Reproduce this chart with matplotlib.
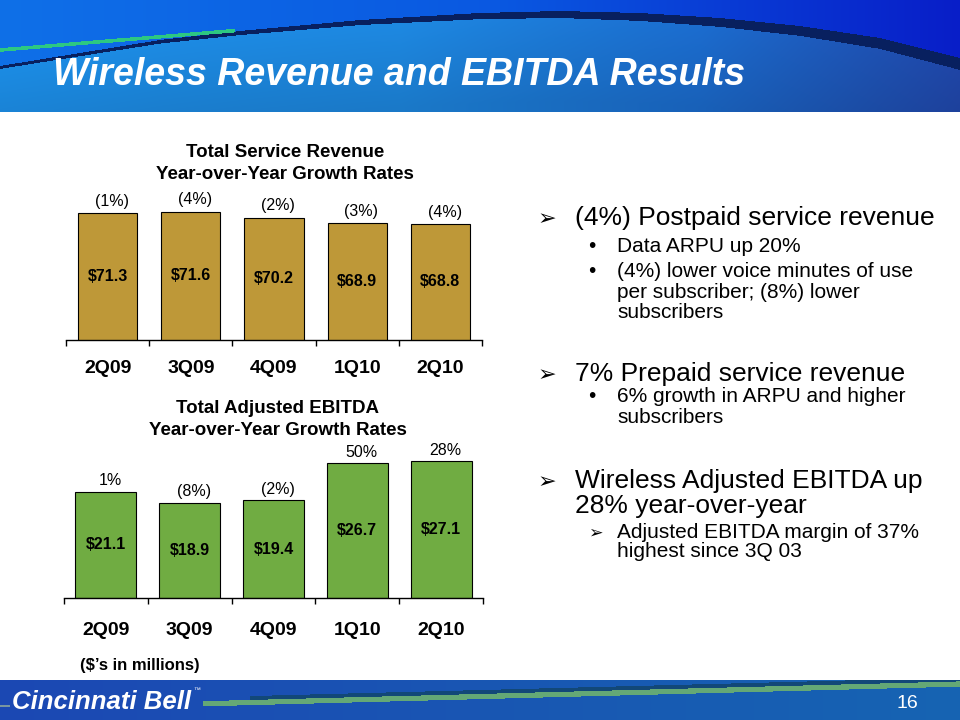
import numpy as np
import matplotlib
matplotlib.use('Agg')
import matplotlib.pyplot as plt

plt.rcParams['font.family'] = ['Liberation Sans', 'DejaVu Sans']

# ---------------- data ----------------
quarters = ['2Q09', '3Q09', '4Q09', '1Q10', '2Q10']
revenue = [71.3, 71.6, 70.2, 68.9, 68.8]
revenue_growth = ['(1%)', '(4%)', '(2%)', '(3%)', '(4%)']
ebitda = [21.1, 18.9, 19.4, 26.7, 27.1]
ebitda_growth = ['1%', '(8%)', '(2%)', '50%', '28%']

W, H = 960, 720
fig = plt.figure(figsize=(9.6, 7.2), dpi=100)
fig.patch.set_facecolor('white')

# ---------------- background (slide decoration) ----------------
bg = fig.add_axes([0, 0, 1, 1], zorder=-10)
bg.set_xlim(0, W)
bg.set_ylim(H, 0)
bg.axis('off')


def interp_col(xs, stops_x, stops_c):
    stops_c = np.array(stops_c, dtype=float)
    return np.stack([np.interp(xs, stops_x, stops_c[:, k]) for k in range(3)], axis=-1)


hh = 112
xs = np.arange(W) + 0.5
ys = np.arange(hh) + 0.5
X, Y = np.meshgrid(xs, ys)
cx = [0, 160, 240, 360, 480, 560, 640, 720, 800, 880, 960]
cy = [66, 40, 31, 20, 13, 11, 13, 18, 26, 38, 58]
yc = np.interp(xs, cx, cy)
thick = 3 + 9 * (xs / W) ** 1.5
upper = interp_col(xs, [0, 500, 960], [(15, 112, 232), (10, 88, 225), (8, 30, 200)])
lower = interp_col(xs, [0, 400, 700, 960], [(28, 140, 228), (30, 138, 228), (28, 110, 210), (32, 70, 168)])
img = np.where((Y < yc[None, :])[..., None], upper[None, :, :], lower[None, :, :])
shade = np.clip((Y - yc[None, :]) / 90.0, 0, 1)[..., None]
img = np.where((Y >= yc[None, :])[..., None], img * (1 - 0.12 * shade), img)
band = (Y >= yc[None, :]) & (Y < (yc + thick)[None, :])
img[band] = (8, 32, 95)
yg = 50 - (19 / 230) * X
green = (np.abs(Y - yg) < 1.8) & (X < 235)
img[green] = (45, 200, 130)
bg.imshow(img / 255.0, extent=[0, W, hh, 0], aspect='auto', interpolation='bilinear', zorder=0)

# footer
fh = 40
ys2 = np.arange(fh) + 680.5
X2, Y2 = np.meshgrid(xs, ys2)
fcol = interp_col(xs, [0, 960], [(28, 72, 180), (22, 100, 178)])
fimg = np.repeat(fcol[None, :, :], fh, axis=0)
ys_line = 704 - (X2 - 195) * (20 / 765)
stripe = (X2 > 203) & (np.abs(Y2 - ys_line) < 2.6)
dark = (X2 > 250) & (Y2 < ys_line - 2.6) & (Y2 > ys_line - 6.5)
fimg[dark] = (18, 72, 120)
fimg[stripe] = (100, 168, 118)
leftline = (X2 < 10) & (np.abs(Y2 - 706) < 1.5)
fimg[leftline] = (120, 150, 160)
bg.imshow(fimg / 255.0, extent=[0, W, 720, 680], aspect='auto', interpolation='bilinear', zorder=0)

bg.set_xlim(0, W)
bg.set_ylim(H, 0)

# header title
bg.text(53, 85, 'Wireless Revenue and EBITDA Results', color='white', fontsize=27,
        fontweight='bold', fontstyle='italic', ha='left', va='baseline', zorder=5)

# footer texts
bg.text(12, 709, 'Cincinnati Bell', color='white', fontsize=18.5, fontweight='bold',
        fontstyle='italic', ha='left', va='baseline', zorder=5)
bg.text(193, 692, '™', color='white', fontsize=5, ha='left', va='baseline', zorder=5)
bg.text(907, 708, '16', color='white', fontsize=14, ha='center', va='baseline', zorder=5)

# chart titles
bg.text(285, 156.7, 'Total Service Revenue', fontsize=13.5, fontweight='bold',
        ha='center', va='baseline')
bg.text(285, 179.3, 'Year-over-Year Growth Rates', fontsize=13.5, fontweight='bold',
        ha='center', va='baseline')
bg.text(278, 413, 'Total Adjusted EBITDA', fontsize=13.5, fontweight='bold',
        ha='center', va='baseline')
bg.text(278, 435, 'Year-over-Year Growth Rates', fontsize=13.5, fontweight='bold',
        ha='center', va='baseline')

bg.text(80, 670, '($’s in millions)', fontsize=12, fontweight='bold', ha='left', va='baseline')

# ---------------- bullet text ----------------
main_fs = 19
sub_fs = 15
main_x = 575
sub_x = 617
main_lines = [
    (225.5, '(4%) Postpaid service revenue', True),
    (381, '7% Prepaid service revenue', True),
    (488, 'Wireless Adjusted EBITDA up', True),
    (513, '28% year-over-year', False),
]
for yb, txt, marker in main_lines:
    bg.text(main_x, yb, txt, fontsize=main_fs, ha='left', va='baseline')
    if marker:
        bg.text(547, yb, '➢', fontsize=16, fontweight='bold', ha='center', va='baseline',
                family=['DejaVu Sans'])

sub_lines = [
    (251.7, 'Data ARPU up 20%', '•'),
    (277, '(4%) lower voice minutes of use', '•'),
    (298, 'per subscriber; (8%) lower', None),
    (317.6, 'subscribers', None),
    (402, '6% growth in ARPU and higher', '•'),
    (423, 'subscribers', None),
    (538, 'Adjusted EBITDA margin of 37%', '➢'),
    (557, 'highest since 3Q 03', None),
]
for yb, txt, marker in sub_lines:
    bg.text(sub_x, yb, txt, fontsize=sub_fs, ha='left', va='baseline')
    if marker == '•':
        bg.text(592, yb, '•', fontsize=sub_fs, ha='center', va='baseline')
    elif marker == '➢':
        bg.text(595, yb, '➢', fontsize=12.5, fontweight='bold', ha='center', va='baseline',
                family=['DejaVu Sans'])

# ---------------- charts ----------------
xpos = np.arange(len(quarters))


def style_axis(ax, pad):
    for s in ['top', 'left', 'right']:
        ax.spines[s].set_visible(False)
    ax.spines['bottom'].set_linewidth(1.0)
    ax.set_facecolor('none')
    ax.set_yticks([])
    ax.set_xlim(-0.5, len(quarters) - 0.5)
    ax.set_xticks(xpos)
    ax.set_xticklabels(quarters, fontsize=14, fontweight='bold')
    ax.tick_params(axis='x', which='major', length=0, pad=pad)
    ax.set_xticks(np.arange(-0.5, len(quarters), 1.0), minor=True)
    ax.tick_params(axis='x', which='minor', length=4.5, width=1.0, direction='out')


# top chart: total service revenue
ax1 = fig.add_axes([66 / W, 1 - 340 / H, 416 / W, 150 / H])
y0_top = 42.4
ax1.bar(xpos, revenue, width=0.71, color='#BE9838', edgecolor='black', linewidth=0.8)
ax1.set_ylim(y0_top, y0_top + 150 / 4.4)
style_axis(ax1, 14.5)
for i, (v, g) in enumerate(zip(revenue, revenue_growth)):
    ax1.text(i, (y0_top + v) / 2, f'${v:.1f}', ha='center', va='center',
             fontsize=11.5, fontweight='bold')
    ax1.annotate(g, (i, v), xytext=(3, 8.5), textcoords='offset points',
                 ha='center', va='center', fontsize=11.5, annotation_clip=False)

# bottom chart: adjusted EBITDA
ax2 = fig.add_axes([64 / W, 1 - 598 / H, 419 / W, 150 / H])
ax2.bar(xpos, ebitda, width=0.73, color='#70AC42', edgecolor='black', linewidth=0.8)
ax2.set_ylim(0, 150 / 5.04)
style_axis(ax2, 17)
for i, (v, g) in enumerate(zip(ebitda, ebitda_growth)):
    ax2.text(i, v / 2, f'${v:.1f}', ha='center', va='center',
             fontsize=11.5, fontweight='bold')
    ax2.annotate(g, (i, v), xytext=(3, 8), textcoords='offset points',
                 ha='center', va='center', fontsize=11.5, annotation_clip=False)

fig.savefig('out.png', dpi=100)
